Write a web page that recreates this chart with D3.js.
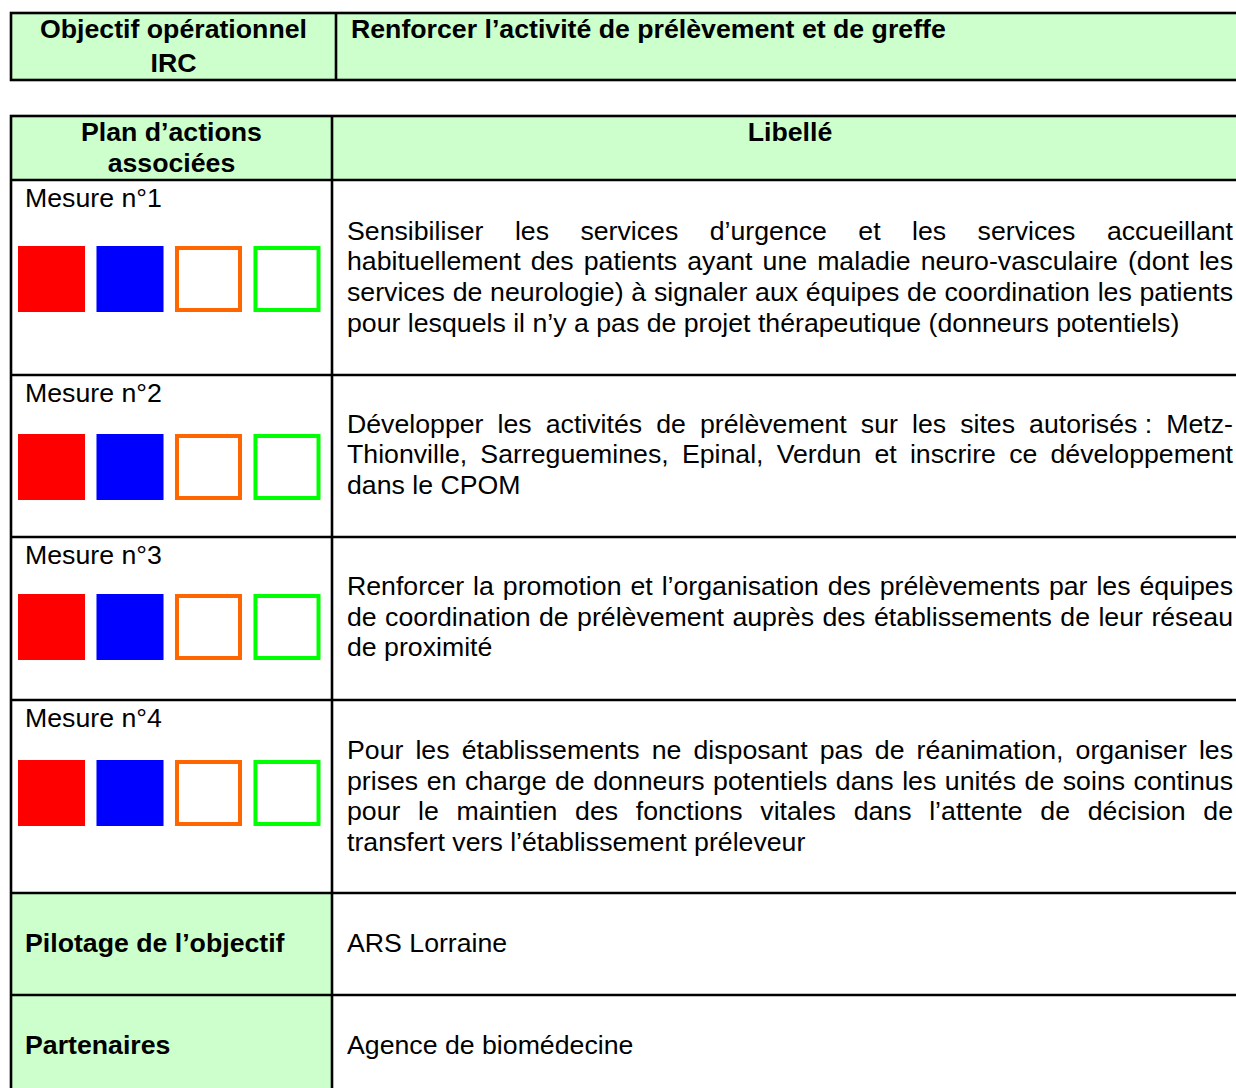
<!DOCTYPE html>
<html><head><meta charset="utf-8">
<script src="https://cdn.jsdelivr.net/npm/d3@7"></script>
<style>html,body{margin:0;padding:0;background:#fff;} svg{display:block;}</style>
</head><body><div id="chart"></div>
<script>
// ---------- data ----------
const objectiveLabel = ["Objectif opérationnel", "IRC"];
const objectiveTitle = "Renforcer l’activité de prélèvement et de greffe";
const headerLeft = ["Plan d’actions", "associées"];
const headerRight = "Libellé";
const measureLabels = ["Mesure n°1", "Mesure n°2", "Mesure n°3", "Mesure n°4"];
const measureLines = [
  ["Sensibiliser les services d’urgence et les services accueillant",
   "habituellement des patients ayant une maladie neuro-vasculaire (dont les",
   "services de neurologie) à signaler aux équipes de coordination les patients",
   "pour lesquels il n’y a pas de projet thérapeutique (donneurs potentiels)"],
  ["Développer les activités de prélèvement sur les sites autorisés\u00a0: Metz-",
   "Thionville, Sarreguemines, Epinal, Verdun et inscrire ce développement",
   "dans le CPOM"],
  ["Renforcer la promotion et l’organisation des prélèvements par les équipes",
   "de coordination de prélèvement auprès des établissements de leur réseau",
   "de proximité"],
  ["Pour les établissements ne disposant pas de réanimation, organiser les",
   "prises en charge de donneurs potentiels dans les unités de soins continus",
   "pour le maintien des fonctions vitales dans l’attente de décision de",
   "transfert vers l’établissement préleveur"]
];
const squareColors = ["#FF0000", "#0000FF", "#FF6600", "#00FF00"];
const squareFilled = [true, true, false, false];
const footerLabels = ["Pilotage de l’objectif", "Partenaires"];
const footerValues = ["ARS Lorraine", "Agence de biomédecine"];

// ---------- layout ----------
const W = 1236, H = 1088;
const FONT = '"Liberation Sans", Arial, sans-serif';
const FS = 26.7;
const GREEN = "#CCFFCC";
const SW = 2.6;
const LINE = 30.7;
const topT = {x0: 11, x1: 1260, xDiv: 336, y0: 13, y1: 80};
const tbl = {x0: 11, x1: 1260, xDiv: 332, y0: 116, yHead: 180};
const rowEdges = [180, 375, 537, 700, 893, 995, 1110];
const textX = 347, textRight = 1233;
const measureBaselines = [239.5, 432.5, 595, 759];
const squareTops = [246, 434, 594, 760];
const SQ = 66;

const svg = d3.select("#chart").append("svg").attr("width", W).attr("height", H)
  .attr("font-family", FONT).attr("font-size", FS);
svg.append("rect").attr("width", W).attr("height", H).attr("fill", "#fff");

const cells = svg.append("g");
const lines = svg.append("g").attr("stroke", "#000").attr("stroke-width", SW).attr("fill", "none");
const txt = svg.append("g").attr("fill", "#000");

// measuring helper
const meas = svg.append("text").attr("x", -1000).attr("y", -1000).attr("font-size", FS);
function tw(s, weight) {
  meas.attr("font-weight", weight || "normal").text(s);
  return meas.node().getComputedTextLength();
}

function drawText(s, x, y, opts = {}) {
  return txt.append("text").attr("x", x).attr("y", y)
    .attr("font-weight", opts.bold ? "bold" : "normal")
    .attr("text-anchor", opts.anchor || "start")
    .text(s);
}
function drawJustified(s, x, y, right) {
  const words = s.split(" ");
  const widths = words.map(w => tw(w));
  const total = d3.sum(widths);
  const gap = (right - x - total) / (words.length - 1);
  let cx = x;
  words.forEach((w, i) => {
    txt.append("text").attr("x", cx).attr("y", y).text(w);
    cx += widths[i] + gap;
  });
}

// ---- top table ----
cells.append("rect").attr("x", topT.x0).attr("y", topT.y0)
  .attr("width", topT.x1 - topT.x0).attr("height", topT.y1 - topT.y0).attr("fill", GREEN);
lines.append("rect").attr("x", topT.x0).attr("y", topT.y0)
  .attr("width", topT.x1 - topT.x0).attr("height", topT.y1 - topT.y0);
lines.append("line").attr("x1", topT.xDiv).attr("x2", topT.xDiv).attr("y1", topT.y0).attr("y2", topT.y1);
const objCx = (topT.x0 + topT.xDiv) / 2;
drawText(objectiveLabel[0], objCx, 38, {bold: true, anchor: "middle"});
drawText(objectiveLabel[1], objCx, 72, {bold: true, anchor: "middle"});
drawText(objectiveTitle, 351, 38, {bold: true});

// ---- main table ----
const yBottom = rowEdges[rowEdges.length - 1];
cells.append("rect").attr("x", tbl.x0).attr("y", tbl.y0)
  .attr("width", tbl.x1 - tbl.x0).attr("height", tbl.yHead - tbl.y0).attr("fill", GREEN);
[4, 5].forEach(r => {
  cells.append("rect").attr("x", tbl.x0).attr("y", rowEdges[r])
    .attr("width", tbl.xDiv - tbl.x0).attr("height", rowEdges[r + 1] - rowEdges[r]).attr("fill", GREEN);
});
lines.append("rect").attr("x", tbl.x0).attr("y", tbl.y0)
  .attr("width", tbl.x1 - tbl.x0).attr("height", yBottom - tbl.y0);
lines.append("line").attr("x1", tbl.xDiv).attr("x2", tbl.xDiv).attr("y1", tbl.y0).attr("y2", yBottom);
rowEdges.slice(0, -1).forEach(y => {
  lines.append("line").attr("x1", tbl.x0).attr("x2", tbl.x1).attr("y1", y).attr("y2", y);
});

const leftCx = (tbl.x0 + tbl.xDiv) / 2;
drawText(headerLeft[0], leftCx, 141, {bold: true, anchor: "middle"});
drawText(headerLeft[1], leftCx, 172, {bold: true, anchor: "middle"});
drawText(headerRight, 790, 141, {bold: true, anchor: "middle"});

const sqX = d3.scaleBand().domain(d3.range(squareColors.length))
  .range([18, 320.5]).paddingInner(0.146);

measureLabels.forEach((lab, r) => {
  drawText(lab, 25, rowEdges[r] + 27);
  const sy = squareTops[r];
  squareColors.forEach((c, i) => {
    const bw = sqX.bandwidth();
    if (squareFilled[i]) {
      cells.append("rect").attr("x", sqX(i)).attr("y", sy).attr("width", bw).attr("height", SQ).attr("fill", c);
    } else {
      const s = 4;
      cells.append("rect").attr("x", sqX(i) + s / 2).attr("y", sy + s / 2)
        .attr("width", bw - s).attr("height", SQ - s)
        .attr("fill", "#fff").attr("stroke", c).attr("stroke-width", s);
    }
  });
  const ls = measureLines[r];
  ls.forEach((l, j) => {
    const y = measureBaselines[r] + j * LINE;
    if (j < ls.length - 1) drawJustified(l, textX, y, textRight);
    else drawText(l, textX, y);
  });
});

footerLabels.forEach((lab, k) => {
  const y = rowEdges[4 + k] + 58.5;
  drawText(lab, 25, y, {bold: true});
  drawText(footerValues[k], textX, y);
});
meas.remove();
</script></body></html>
